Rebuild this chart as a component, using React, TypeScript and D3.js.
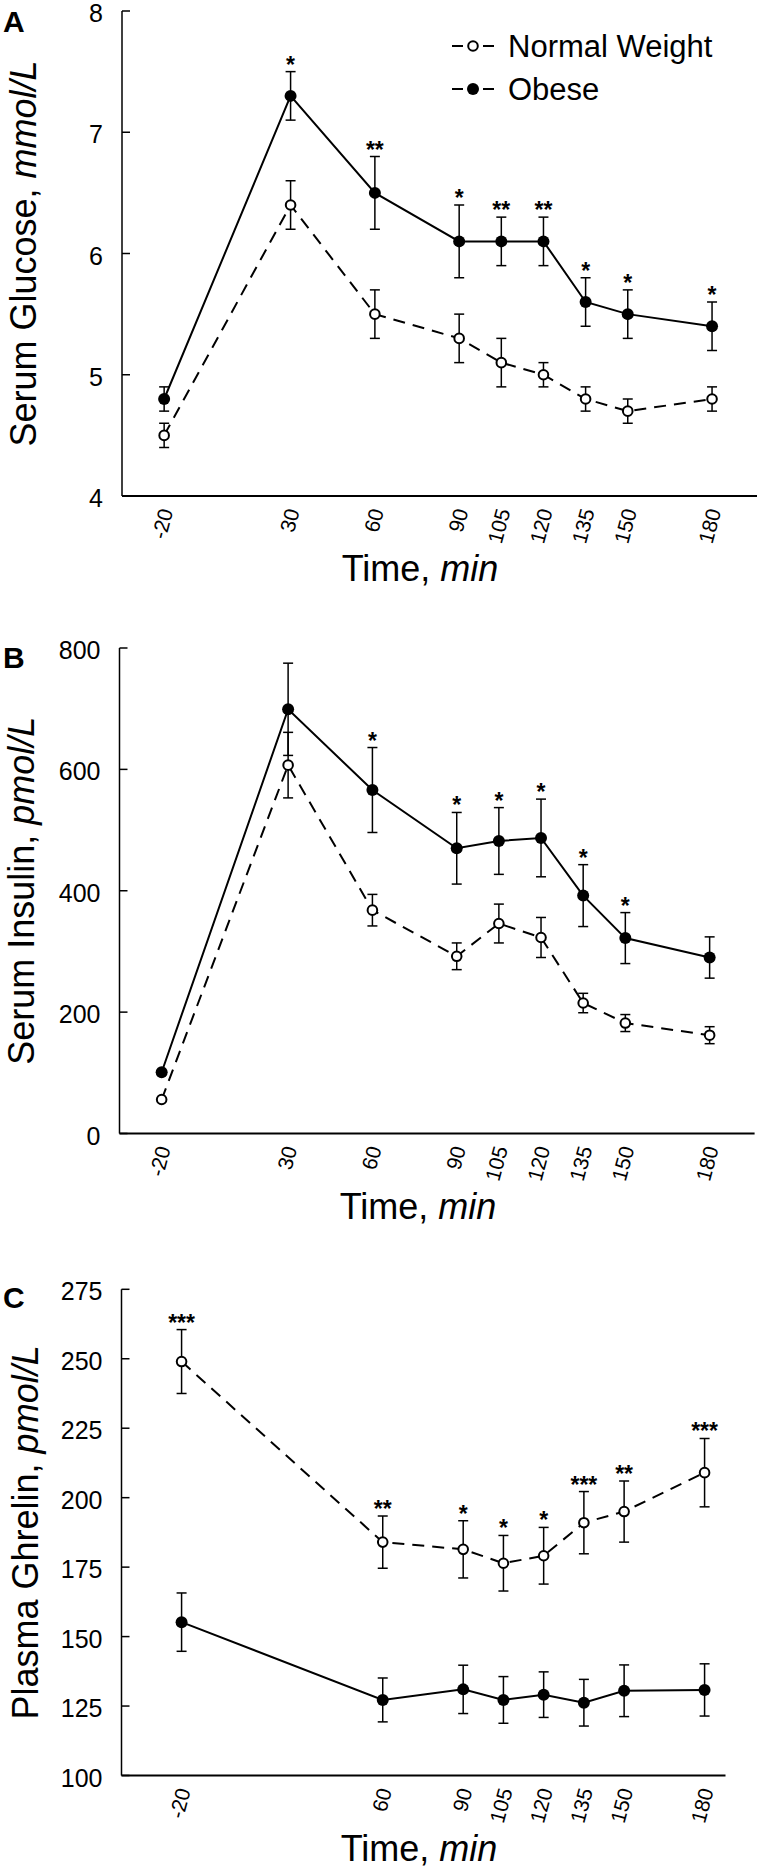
import React from "react";
import * as d3 from "d3";

// ---------- data ----------
const TIMES_AB = [-20, 30, 60, 90, 105, 120, 135, 150, 180];
const TIMES_C = [-20, 60, 90, 105, 120, 135, 150, 180];
const TICK_LABELS_AB = ["-20", "30", "60", "90", "105", "120", "135", "150", "180"];
const TICK_LABELS_C = ["-20", "60", "90", "105", "120", "135", "150", "180"];

const glucoseNormal = [4.5, 6.4, 5.5, 5.3, 5.1, 5.0, 4.8, 4.7, 4.8];
const glucoseNormalErr = [0.1, 0.2, 0.2, 0.2, 0.2, 0.1, 0.1, 0.1, 0.1];
const glucoseObese = [4.8, 7.3, 6.5, 6.1, 6.1, 6.1, 5.6, 5.5, 5.4];
const glucoseObeseErr = [0.1, 0.2, 0.3, 0.3, 0.2, 0.2, 0.2, 0.2, 0.2];
const glucoseSig = ["", "*", "**", "*", "**", "**", "*", "*", "*"];
const glucoseTicks = [4, 5, 6, 7, 8];

const insulinNormal = [56, 607, 368, 292, 346, 323, 215, 182, 162];
const insulinNormalErr = [0, 54, 26, 22, 32, 33, 16, 14, 14];
const insulinObese = [101, 699, 566, 470, 482, 487, 392, 322, 290];
const insulinObeseErr = [0, 76, 70, 59, 55, 64, 51, 42, 34];
const insulinSig = ["", "", "*", "*", "*", "*", "*", "*", ""];
const insulinTicks = [0, 200, 400, 600, 800];

const ghrelinNormal = [249, 184, 181.4, 176.4, 179.1, 191, 195, 209];
const ghrelinNormalErr = [11.5, 9.4, 10.3, 10, 10.2, 11.2, 11, 12.3];
const ghrelinObese = [155.2, 127.2, 131, 127.2, 129.1, 126.2, 130.5, 130.8];
const ghrelinObeseErr = [10.5, 7.9, 8.7, 8.4, 8.2, 8.4, 9.3, 9.4];
const ghrelinSig = ["***", "**", "*", "*", "*", "***", "**", "***"];
const ghrelinTicks = [100, 125, 150, 175, 200, 225, 250, 275];

const LEGEND_LABELS = ["Normal Weight", "Obese"];
// the -20 min baseline sample is drawn where -15 min would fall (axis break)
const BASELINE_PLOT_AT = -15;

const FONT = "'Liberation Sans', Arial, Helvetica, sans-serif";

type Series = { values: number[]; errs: number[] };

type PanelProps = {
  letter: string;
  yTitle: string;
  yUnit: string;
  times: number[];
  tickLabels: string[];
  normal: Series;
  obese: Series;
  sig: string[];
  sigOn: "normal" | "obese";
  yTicks: number[];
  yDomain: [number, number];
  xDomain: [number, number];
  layout: {
    left: number;
    right: number;
    top: number;
    bottom: number;
    letterY: number;
    yTitleX: number;
    timeTitleX: number;
  };
  legend?: boolean;
};

function Panel(p: PanelProps) {
  const L = p.layout;
  const base = d3.scaleLinear().domain(p.xDomain).range([L.left, L.right]);
  const firstPost = p.times[1];
  const last = p.times[p.times.length - 1];
  const x = d3
    .scaleLinear()
    .domain([p.times[0], firstPost, last])
    .range([base(BASELINE_PLOT_AT), base(firstPost), base(last)]);
  const y = d3.scaleLinear().domain(p.yDomain).range([L.bottom, L.top]);

  const line = d3
    .line<number>()
    .x((_, i) => x(p.times[i]))
    .y((d) => y(d));

  const errBars = (s: Series) =>
    s.values.map((v, i) =>
      s.errs[i] > 0 ? (
        <g key={i} stroke="#000" strokeWidth={1.5}>
          <line x1={x(p.times[i])} x2={x(p.times[i])} y1={y(v - s.errs[i])} y2={y(v + s.errs[i])} />
          <line x1={x(p.times[i]) - 5} x2={x(p.times[i]) + 5} y1={y(v + s.errs[i])} y2={y(v + s.errs[i])} />
          <line x1={x(p.times[i]) - 5} x2={x(p.times[i]) + 5} y1={y(v - s.errs[i])} y2={y(v - s.errs[i])} />
        </g>
      ) : null
    );

  const sigSeries = p.sigOn === "obese" ? p.obese : p.normal;
  const tickY = L.bottom + 13;

  return (
    <g>
      {/* panel letter */}
      <text x={3} y={L.letterY} fontFamily={FONT} fontWeight="bold" fontSize={30}>
        {p.letter}
      </text>
      {/* axes */}
      <line x1={L.left} x2={L.left} y1={L.top} y2={L.bottom} stroke="#000" strokeWidth={1.5} />
      <line x1={L.left} x2={L.right} y1={L.bottom} y2={L.bottom} stroke="#000" strokeWidth={2} />
      {p.yTicks.map((t) => (
        <g key={t}>
          <line x1={L.left} x2={L.left + 8} y1={y(t)} y2={y(t)} stroke="#000" strokeWidth={1.5} />
          <text
            x={L.left - 19}
            y={y(t) + 2}
            textAnchor="end"
            dominantBaseline="central"
            fontFamily={FONT}
            fontSize={25}
          >
            {t}
          </text>
        </g>
      ))}
      {p.times.map((t, i) => (
        <text
          key={t}
          transform={`translate(${x(t) + 2},${tickY}) rotate(-75)`}
          textAnchor="end"
          dominantBaseline="central"
          fontFamily={FONT}
          fontSize={21}
        >
          {p.tickLabels[i]}
        </text>
      ))}
      {/* axis titles */}
      <text
        transform={`translate(${L.yTitleX},${(L.top + L.bottom) / 2}) rotate(-90)`}
        textAnchor="middle"
        fontFamily={FONT}
        fontSize={36}
      >
        {p.yTitle}
        <tspan fontStyle="italic">{p.yUnit}</tspan>
      </text>
      <text x={L.timeTitleX} y={L.bottom + 85} textAnchor="middle" fontFamily={FONT} fontSize={36}>
        Time, <tspan fontStyle="italic">min</tspan>
      </text>
      {/* lines */}
      <path d={line(p.normal.values) || ""} fill="none" stroke="#000" strokeWidth={2} strokeDasharray="12,8" />
      <path d={line(p.obese.values) || ""} fill="none" stroke="#000" strokeWidth={2} />
      {errBars(p.normal)}
      {errBars(p.obese)}
      {p.normal.values.map((v, i) => (
        <circle key={"n" + i} cx={x(p.times[i])} cy={y(v)} r={4.8} fill="#fff" stroke="#000" strokeWidth={2} />
      ))}
      {p.obese.values.map((v, i) => (
        <circle key={"o" + i} cx={x(p.times[i])} cy={y(v)} r={6} fill="#000" />
      ))}
      {/* significance */}
      {p.sig.map((s, i) =>
        s ? (
          <text
            key={"s" + i}
            x={x(p.times[i])}
            y={y(sigSeries.values[i] + sigSeries.errs[i]) + 1}
            textAnchor="middle"
            fontFamily={FONT}
            fontWeight="bold"
            fontSize={23}
          >
            {s}
          </text>
        ) : null
      )}
      {p.legend ? (
        <g>
          {LEGEND_LABELS.map((lab, i) => {
            const cy = 46 + i * 43;
            return (
              <g key={lab}>
                <line x1={452} x2={463} y1={cy} y2={cy} stroke="#000" strokeWidth={2} />
                <line x1={483} x2={494} y1={cy} y2={cy} stroke="#000" strokeWidth={2} />
                {i === 0 ? (
                  <circle cx={473} cy={cy} r={4.8} fill="#fff" stroke="#000" strokeWidth={2} />
                ) : (
                  <circle cx={473} cy={cy} r={6} fill="#000" />
                )}
                <text x={508} y={cy + 11} fontFamily={FONT} fontSize={31}>
                  {lab}
                </text>
              </g>
            );
          })}
        </g>
      ) : null}
    </g>
  );
}

export default function App() {
  return (
    <svg
      width={759}
      height={1872}
      viewBox="0 0 759 1872"
      style={{ position: "absolute", left: 0, top: 0, display: "block", background: "#fff" }}
    >
      <rect width={759} height={1872} fill="#fff" />
      <Panel
        letter="A"
        yTitle="Serum Glucose, "
        yUnit="mmol/L"
        times={TIMES_AB}
        tickLabels={TICK_LABELS_AB}
        normal={{ values: glucoseNormal, errs: glucoseNormalErr }}
        obese={{ values: glucoseObese, errs: glucoseObeseErr }}
        sig={glucoseSig}
        sigOn="obese"
        yTicks={glucoseTicks}
        yDomain={[4, 8]}
        xDomain={[-30, 196]}
        layout={{ left: 122, right: 757, top: 11, bottom: 496, letterY: 32, yTitleX: 36, timeTitleX: 420 }}
        legend
      />
      <Panel
        letter="B"
        yTitle="Serum Insulin, "
        yUnit="pmol/L"
        times={TIMES_AB}
        tickLabels={TICK_LABELS_AB}
        normal={{ values: insulinNormal, errs: insulinNormalErr }}
        obese={{ values: insulinObese, errs: insulinObeseErr }}
        sig={insulinSig}
        sigOn="obese"
        yTicks={insulinTicks}
        yDomain={[0, 800]}
        xDomain={[-30, 196]}
        layout={{ left: 119.5, right: 754.6, top: 648, bottom: 1133.5, letterY: 668, yTitleX: 34, timeTitleX: 418 }}
      />
      <Panel
        letter="C"
        yTitle="Plasma Ghrelin, "
        yUnit="pmol/L"
        times={TIMES_C}
        tickLabels={TICK_LABELS_C}
        normal={{ values: ghrelinNormal, errs: ghrelinNormalErr }}
        obese={{ values: ghrelinObese, errs: ghrelinObeseErr }}
        sig={ghrelinSig}
        sigOn="normal"
        yTicks={ghrelinTicks}
        yDomain={[100, 275]}
        xDomain={[-37.4, 187.8]}
        layout={{ left: 121.5, right: 725.5, top: 1289.3, bottom: 1775.5, letterY: 1308, yTitleX: 38, timeTitleX: 419 }}
      />
    </svg>
  );
}
